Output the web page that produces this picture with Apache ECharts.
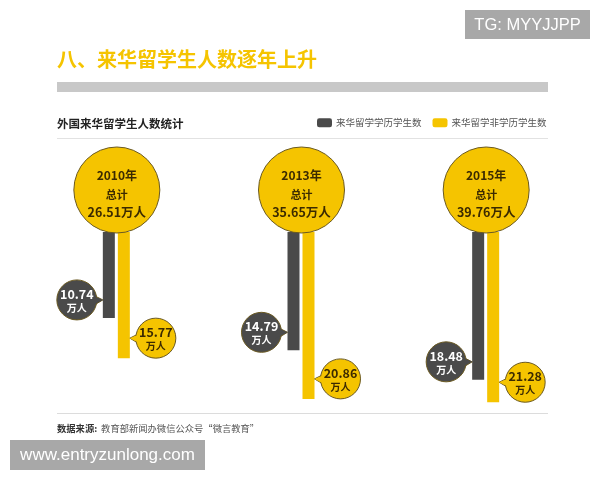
<!DOCTYPE html>
<html><head><meta charset="utf-8">
<script src="https://cdn.jsdelivr.net/npm/echarts/dist/echarts.min.js"></script>
<style>html,body{margin:0;padding:0;background:#fff}#c{width:600px;height:480px}</style>
</head><body><div id="c"></div>
<script>
// ---- data ----
const years = ['2010年', '2013年', '2015年'];
const degreeStudents = [10.74, 14.79, 18.48];      // 来华留学学历学生数 (万人)
const nonDegreeStudents = [15.77, 20.86, 21.28];   // 来华留学非学历学生数 (万人)
const seriesNames = ['来华留学学历学生数', '来华留学非学历学生数'];
const unitText = '万人';
const totalLabel = '总计';
const titleText = '八、来华留学生人数逐年上升';
const subTitleText = '外国来华留学生人数统计';
const sourceBold = '数据来源:';
const sourceText = ' 教育部新闻办微信公众号“微言教育”';
const watermarkTop = 'TG: MYYJJPP';
const watermarkBottom = 'www.entryzunlong.com';

// ---- style ----
const YELLOW = '#F5C400';
const DARK = '#4a4a4a';
const OUTLINE = '#6b5a22';
const CJK = '"Noto Sans CJK SC", "Noto Sans", sans-serif';

const chart = echarts.init(document.getElementById('c'), null, {renderer: 'canvas'});

function bigCircle(params, api) {
  const i = api.value(0);
  const p = api.coord([i, 0]);
  const r = 43;
  const cx = p[0] + 0.5, cy = p[1] - r + 1;
  const total = (degreeStudents[i] + nonDegreeStudents[i]).toFixed(2);
  const txt = (t, dy, fs) => ({
    type: 'text', x: cx, y: cy + dy,
    style: {text: t, align: 'center', verticalAlign: 'middle',
      fontSize: fs, fontWeight: 'bold', fontFamily: CJK, fill: '#3b2a00'}
  });
  return {type: 'group', children: [
    {type: 'circle', shape: {cx: cx, cy: cy, r: r},
      style: {fill: YELLOW, stroke: OUTLINE, lineWidth: 1}},
    txt(years[i], -15, 12),
    txt(totalLabel, 5, 11),
    txt(total + unitText, 22, 12.5)
  ]};
}

function bubble(side, fill, textFill, dyc) {
  return function (params, api) {
    const i = api.value(0);
    const v = api.value(1);
    const p = api.coord([i, v]);
    const r = 20;
    const cx = side < 0 ? p[0] - 39.5 : p[0] + 39.5;
    const cy = p[1] - dyc;
    let pts;
    if (side < 0) {
      pts = [[cx + r - 4, cy - 5], [cx + r + 6, cy], [cx + r - 4, cy + 6]];
    } else {
      pts = [[cx - r + 4, cy - 5], [cx - r - 6, cy], [cx - r + 4, cy + 6]];
    }
    return {type: 'group', children: [
      {type: 'polygon', shape: {points: pts},
        style: {fill: fill, stroke: OUTLINE, lineWidth: 1}},
      {type: 'circle', shape: {cx: cx, cy: cy, r: r},
        style: {fill: fill, stroke: OUTLINE, lineWidth: 1}},
      {type: 'polygon', shape: {points: pts.map((q, k) => k === 1 ? q : [q[0] + (side < 0 ? -2 : 2), q[1]])},
        style: {fill: fill}},
      {type: 'text', x: cx, y: cy - 6,
        style: {text: v.toFixed(2), align: 'center', verticalAlign: 'middle',
          fontSize: 12.5, fontWeight: 'bold', fontFamily: CJK, fill: textFill}},
      {type: 'text', x: cx, y: cy + 8,
        style: {text: unitText, align: 'center', verticalAlign: 'middle',
          fontSize: 10, fontWeight: 'bold', fontFamily: CJK, fill: textFill}}
    ]};
  };
}

const option = {
  backgroundColor: '#fff',
  animation: false,
  textStyle: {fontFamily: CJK},
  title: [
    {text: titleText, left: 52, top: 44,
      textStyle: {fontSize: 20, fontWeight: 'bold', color: YELLOW, fontFamily: CJK}},
    {text: subTitleText, left: 52, top: 113,
      textStyle: {fontSize: 11.5, fontWeight: 'bold', color: '#222', fontFamily: CJK}}
  ],
  legend: {
    data: seriesNames, left: 317, top: 118, padding: 0,
    itemWidth: 15, itemHeight: 9, itemGap: 11, icon: 'roundRect',
    textStyle: {fontSize: 9.5, color: '#555', fontFamily: CJK, padding: [0, 0, 0, -1]}
  },
  grid: {left: 24, right: 22, top: 56, bottom: 68},
  xAxis: {type: 'category', data: years, show: false},
  yAxis: {type: 'value', inverse: true, min: -22, max: 22.5, show: false},
  graphic: [
    {type: 'rect', left: 57, top: 82, shape: {width: 491, height: 10}, style: {fill: '#c8c8c8'}},
    {type: 'rect', left: 57, top: 138, shape: {width: 491, height: 1}, style: {fill: '#e2e2e2'}},
    {type: 'rect', left: 57, top: 413, shape: {width: 491, height: 1}, style: {fill: '#dcdcdc'}},
    {type: 'text', left: 57, top: 424,
      style: {text: sourceBold, fontSize: 9.3, fontWeight: 'bold', fill: '#333', fontFamily: CJK}},
    {type: 'text', left: 99, top: 424,
      style: {text: sourceText, fontSize: 9.3, fill: '#555', fontFamily: CJK}},
    {type: 'group', left: 465, top: 10, children: [
      {type: 'rect', shape: {width: 125, height: 29}, style: {fill: '#a8a8a8'}},
      {type: 'text', x: 62.5, y: 15,
        style: {text: watermarkTop, align: 'center', verticalAlign: 'middle', fontSize: 16.5,
          fill: '#fff', fontFamily: 'Liberation Sans, Arial, sans-serif'}}
    ]},
    {type: 'group', left: 10, top: 440, children: [
      {type: 'rect', shape: {width: 195, height: 30}, style: {fill: '#a8a8a8'}},
      {type: 'text', x: 97.5, y: 15,
        style: {text: watermarkBottom, align: 'center', verticalAlign: 'middle', fontSize: 17,
          fill: '#fff', fontFamily: 'Liberation Sans, Arial, sans-serif'}}
    ]}
  ],
  series: [
    {name: seriesNames[0], type: 'bar', data: degreeStudents, barWidth: 12, barGap: '25%',
      itemStyle: {color: DARK}, z: 2},
    {name: seriesNames[1], type: 'bar', data: nonDegreeStudents, barWidth: 12,
      itemStyle: {color: YELLOW}, z: 2},
    {type: 'custom', data: years.map((y, i) => [i, 0]), encode: {x: 0, y: 1},
      renderItem: bigCircle, z: 5, silent: true},
    {type: 'custom', data: degreeStudents.map((v, i) => [i, v]), encode: {x: 0, y: 1},
      renderItem: bubble(-1, DARK, '#ffffff', 18), z: 5, silent: true},
    {type: 'custom', data: nonDegreeStudents.map((v, i) => [i, v]), encode: {x: 0, y: 1},
      renderItem: bubble(1, YELLOW, '#3b2a00', 20), z: 5, silent: true}
  ]
};
chart.setOption(option);
</script>
</body></html>
